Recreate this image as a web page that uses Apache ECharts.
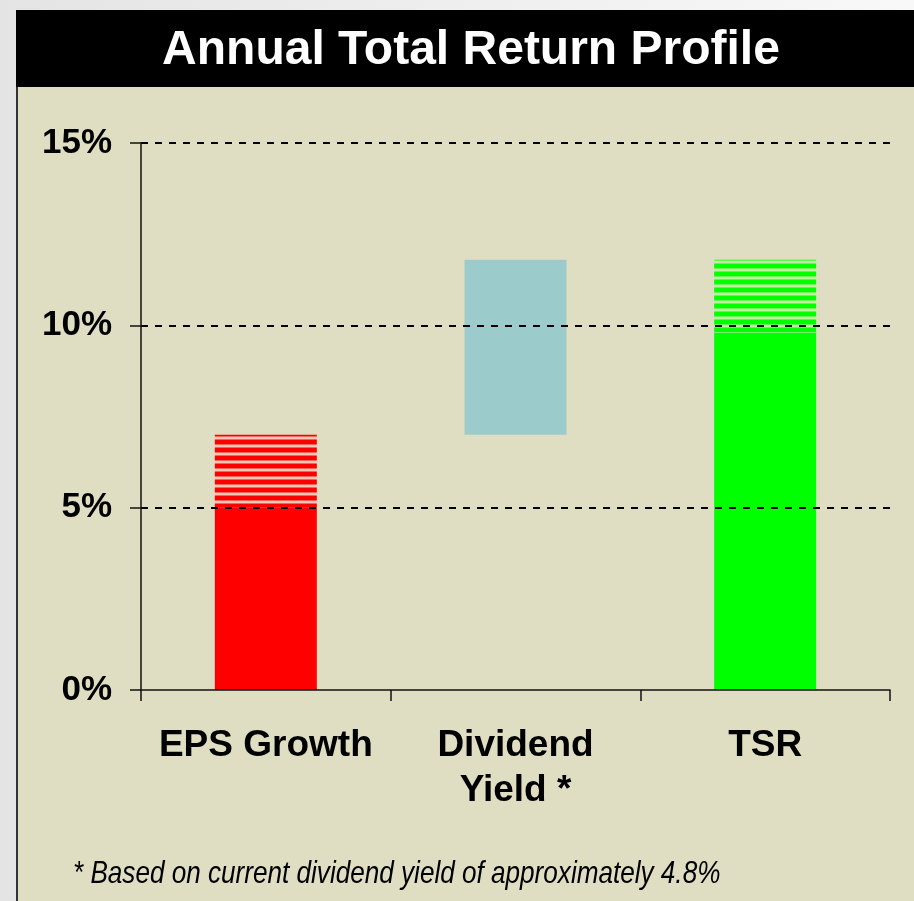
<!DOCTYPE html>
<html>
<head>
<meta charset="utf-8">
<script src="https://cdn.jsdelivr.net/npm/echarts@6/dist/echarts.min.js"></script>
<style>
    html, body { margin: 0; padding: 0; background: #eeeeee; }
    #chart { width: 914px; height: 901px; }
</style>
</head>
<body>
<div id="chart"></div>
<script>
// values in percent
const categories = ['EPS Growth', 'Dividend\nYield *', 'TSR'];
const baseValues = [5, 7, 9.8];    // solid part (dividend: invisible offset)
const rangeValues = [2, 4.8, 2];   // striped upside / dividend yield band
const yTicks = [0, 5, 10, 15];

const beige = '#e0dec2';
const red = '#ff0000';
const green = '#00ff00';
const blue = '#9ccbcb';

// horizontal stripes, colour and pale gap
function stripes (color, gap) {
    const c = document.createElement('canvas');
    c.width = 4;
    c.height = 8;
    const ctx = c.getContext('2d');
    ctx.fillStyle = gap;
    ctx.fillRect(0, 0, 4, 8);
    ctx.fillStyle = color;
    ctx.fillRect(0, 0, 4, 4);
    ctx.globalAlpha = 0.5;
    ctx.fillRect(0, 4, 4, 1);
    ctx.fillRect(0, 7, 4, 1);
    return {image: c, repeat: 'repeat'};
}

const baseColors = [red, 'rgba(0,0,0,0)', green];
const rangeColors = [stripes(red, '#ecc8b8'), blue, stripes(green, '#c8eca8')];

const font = "'Liberation Sans', Arial, sans-serif";

let chart = echarts.init(document.getElementById('chart'));
chart.setOption({
    backgroundColor: {
        type: 'linear', x: 0, y: 0, x2: 1, y2: 0,
        colorStops: [{offset: 0, color: '#e4e4e4'}, {offset: 1, color: '#f8f8f8'}]
    },
    animation: false,
    graphic: [
        {
            type: 'rect', z: 0,
            shape: {x: 17, y: 86, width: 920, height: 840},
            style: {fill: beige, stroke: '#333', lineWidth: 2}
        },
        {
            type: 'rect', z: 0,
            shape: {x: 16, y: 10, width: 920, height: 77},
            style: {fill: '#000'}
        },
        {
            type: 'text', z: 1,
            x: 471, y: 51,
            style: {
                text: 'Annual Total Return Profile',
                fill: '#fff',
                font: 'bold 48px ' + font,
                textAlign: 'center',
                textVerticalAlign: 'middle'
            }
        },
        {
            // narrow italic: condensed horizontally
            type: 'text', z: 1,
            x: 73, y: 874,
            scaleX: 0.816,
            style: {
                text: '* Based on current dividend yield of approximately 4.8%',
                fill: '#000',
                font: 'italic 32px ' + font,
                textAlign: 'left',
                textVerticalAlign: 'middle'
            }
        }
    ],
    grid: {left: 141, right: 24, top: 143, bottom: 211},
    xAxis: {
        type: 'category',
        data: categories,
        z: 5,
        axisLine: {lineStyle: {color: '#111', width: 1.5}},
        axisTick: {show: true, length: 11, lineStyle: {color: '#111', width: 1.5}},
        axisLabel: {
            interval: 0,
            margin: 33,
            color: '#000',
            fontFamily: font,
            fontWeight: 'bold',
            fontSize: 37,
            lineHeight: 45
        }
    },
    yAxis: {
        type: 'value',
        min: yTicks[0],
        max: yTicks[yTicks.length - 1],
        interval: yTicks[1] - yTicks[0],
        z: 5,
        axisLine: {show: true, lineStyle: {color: '#111', width: 1.5}},
        axisTick: {show: true, length: 11, lineStyle: {color: '#111', width: 1.5}},
        axisLabel: {
            formatter: '{value}%',
            margin: 29,
            color: '#000',
            fontFamily: font,
            fontWeight: 'bold',
            fontSize: 35
        },
        splitLine: {showMinLine: false, lineStyle: {color: '#000', width: 2, type: [7, 7]}}
    },
    series: [
        {
            name: 'base',
            type: 'bar',
            stack: 'total',
            barWidth: 102,
            data: baseValues.map((v, i) => ({value: v, itemStyle: {color: baseColors[i]}}))
        },
        {
            name: 'range',
            type: 'bar',
            stack: 'total',
            barWidth: 102,
            data: rangeValues.map((v, i) => ({value: v, itemStyle: {color: rangeColors[i]}}))
        }
    ]
});
</script>
</body>
</html>
